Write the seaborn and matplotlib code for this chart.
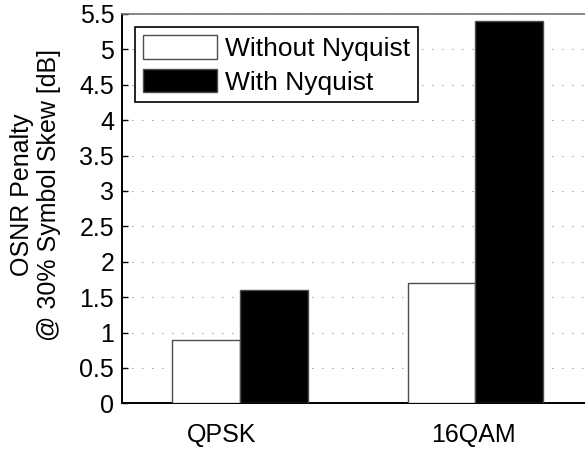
import matplotlib
matplotlib.use("Agg")
import matplotlib.pyplot as plt
import matplotlib.transforms as mtransforms
import seaborn as sns
import pandas as pd

# Data
modulations = ["QPSK", "16QAM"]
schemes = ["Without Nyquist", "With Nyquist"]
penalty_without = [0.9, 1.7]
penalty_with = [1.6, 5.4]
ytick_values = [0, 0.5, 1, 1.5, 2, 2.5, 3, 3.5, 4, 4.5, 5, 5.5]
ytick_labels = ["0", "0.5", "1", "1.5", "2", "2.5", "3", "3.5", "4", "4.5", "5", "5.5"]

df = pd.DataFrame({
    "modulation": modulations * 2,
    "scheme": [schemes[0]] * len(modulations) + [schemes[1]] * len(modulations),
    "penalty": penalty_without + penalty_with,
})

sns.set_theme(style="white")
plt.rcParams["font.family"] = ["Liberation Sans", "DejaVu Sans"]
plt.rcParams["font.size"] = 18
plt.rcParams["text.color"] = "black"
plt.rcParams["axes.labelcolor"] = "black"
plt.rcParams["xtick.color"] = "black"
plt.rcParams["ytick.color"] = "black"

fig = plt.figure(figsize=(5.85, 4.5), dpi=100)
ax = fig.add_axes([0.2094, 0.1038, 0.8041, 0.8651])

sns.barplot(
    data=df, x="modulation", y="penalty", hue="scheme",
    order=modulations, hue_order=schemes,
    palette=["white", "black"], edgecolor="0.3", linewidth=1.0,
    width=0.575, ax=ax, zorder=3,
)

ax.set_xlim(-0.5, 1.5)
ax.set_ylim(0, 5.5)
ax.set_yticks(ytick_values)
ax.set_yticklabels(ytick_labels)
ax.set_xlabel("")
ax.set_ylabel("OSNR Penalty\n@ 30% Symbol Skew [dB]", fontsize=18,
              labelpad=9, color="black")
ax.yaxis.set_label_coords(-0.13, 0.535)

# horizontal dotted grid
ax.yaxis.grid(True, linestyle=(0, (1, 11)), linewidth=0.6, color="0.25")
ax.xaxis.grid(False)
ax.set_axisbelow(True)

ax.tick_params(axis="y", direction="in", length=4, width=1, color="black",
               labelcolor="black", labelsize=18, pad=6, left=True)
ax.tick_params(axis="x", length=0, labelsize=18, labelcolor="black", pad=14)

for side in ["left", "bottom"]:
    ax.spines[side].set_color("black")
    ax.spines[side].set_linewidth(1.4)
ax.spines["top"].set_color("0.45")
ax.spines["top"].set_linewidth(1.2)
ax.spines["right"].set_visible(False)

# nudge category labels
offsets_px = [-18, -2]
for lab, dx in zip(ax.get_xticklabels(), offsets_px):
    lab.set_transform(lab.get_transform() +
                      mtransforms.ScaledTranslation(dx / 100, 0, fig.dpi_scale_trans))

handles, labels = ax.get_legend_handles_labels()
leg = ax.legend(
    handles, labels, loc="upper left", bbox_to_anchor=(0.0266, 0.9666),
    borderaxespad=0, fancybox=False, frameon=True, fontsize=19,
    handlelength=2.8, handleheight=1.0, handletextpad=0.3,
    labelspacing=0.3, borderpad=0.3,
)
leg.get_frame().set_edgecolor("black")
leg.get_frame().set_linewidth(1.2)
leg.get_frame().set_facecolor("white")
leg.get_frame().set_alpha(1)
for t in leg.get_texts():
    t.set_color("black")

fig.savefig("out.png", dpi=100)
